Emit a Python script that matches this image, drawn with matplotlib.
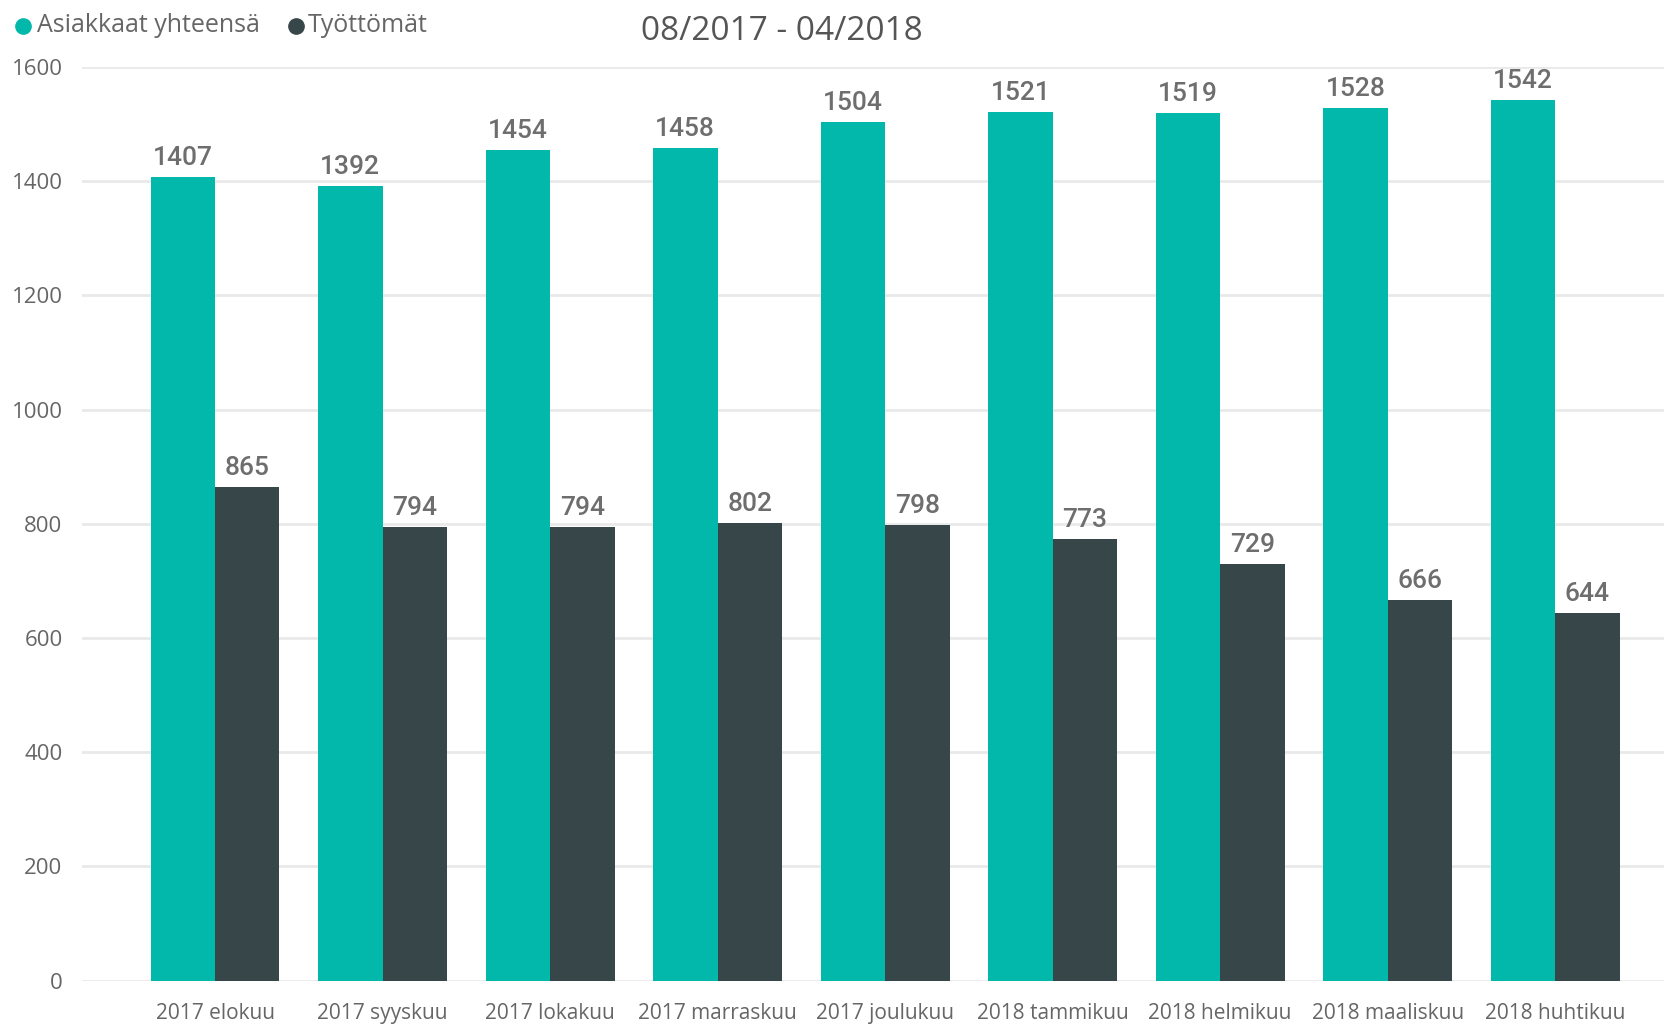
import matplotlib.pyplot as plt
from matplotlib.lines import Line2D
import numpy as np

months = ["2017 elokuu", "2017 syyskuu", "2017 lokakuu", "2017 marraskuu",
          "2017 joulukuu", "2018 tammikuu", "2018 helmikuu", "2018 maaliskuu",
          "2018 huhtikuu"]
asiakkaat = [1407, 1392, 1454, 1458, 1504, 1521, 1519, 1528, 1542]
tyottomat = [865, 794, 794, 802, 798, 773, 729, 666, 644]
series = ["Asiakkaat yhteensä", "Työttömät"]

teal = "#01B8AA"
dark = "#374649"
grey = "#666666"

fig = plt.figure(figsize=(16.64, 10.24), dpi=100)
ax = fig.add_axes([82 / 1664, 1 - 980.6 / 1024, 1 - 82 / 1664, (980.6 - 66.9) / 1024])

x = np.arange(len(months))
w = 0.385
b1 = ax.bar(x - w / 2, asiakkaat, w, color=teal, zorder=2)
b2 = ax.bar(x + w / 2, tyottomat, w, color=dark, zorder=2)

for bars, vals in ((b1, asiakkaat), (b2, tyottomat)):
    for r, v in zip(bars, vals):
        ax.annotate(str(v), (r.get_x() + r.get_width() / 2, v),
                    xytext=(0, 5), textcoords="offset points",
                    ha="center", va="bottom", fontsize=19, fontweight="medium",
                    family="Roboto", color="#6e6e6e", clip_on=False)

ax.set_xlim(-0.794, 8.65)
ax.set_ylim(0, 1600)
ax.set_yticks(range(0, 1601, 200))
ax.set_xticks(x)
ax.set_xticklabels(months, fontsize=15, color=grey, family="Open Sans")
for t in ax.get_yticklabels():
    t.set_fontsize(16)
    t.set_color(grey)
    t.set_family("Open Sans")
ax.tick_params(axis="both", length=0)
ax.tick_params(axis="x", pad=16)
ax.tick_params(axis="y", pad=14)
ax.grid(axis="y", color="#e9e9e9", linewidth=2, zorder=0)
for s in ax.spines.values():
    s.set_visible(False)

fig.text(782 / 1664, 1 - 31 / 1024, "08/2017 - 04/2018", ha="center", va="center",
         fontsize=24, color="#555555", family="Open Sans")

# legend drawn by hand
ly = 1 - 26 / 1024
for mx, tx, col, name in ((23, 37, teal, series[0]), (296, 308, dark, series[1])):
    fig.add_artist(Line2D([mx / 1664], [ly], marker="o", linestyle="", color=col,
                          markersize=11, transform=fig.transFigure))
    fig.text(tx / 1664, ly, name, ha="left", va="center", fontsize=18,
             color=grey, family="Open Sans")

fig.savefig("out.png", dpi=100)
